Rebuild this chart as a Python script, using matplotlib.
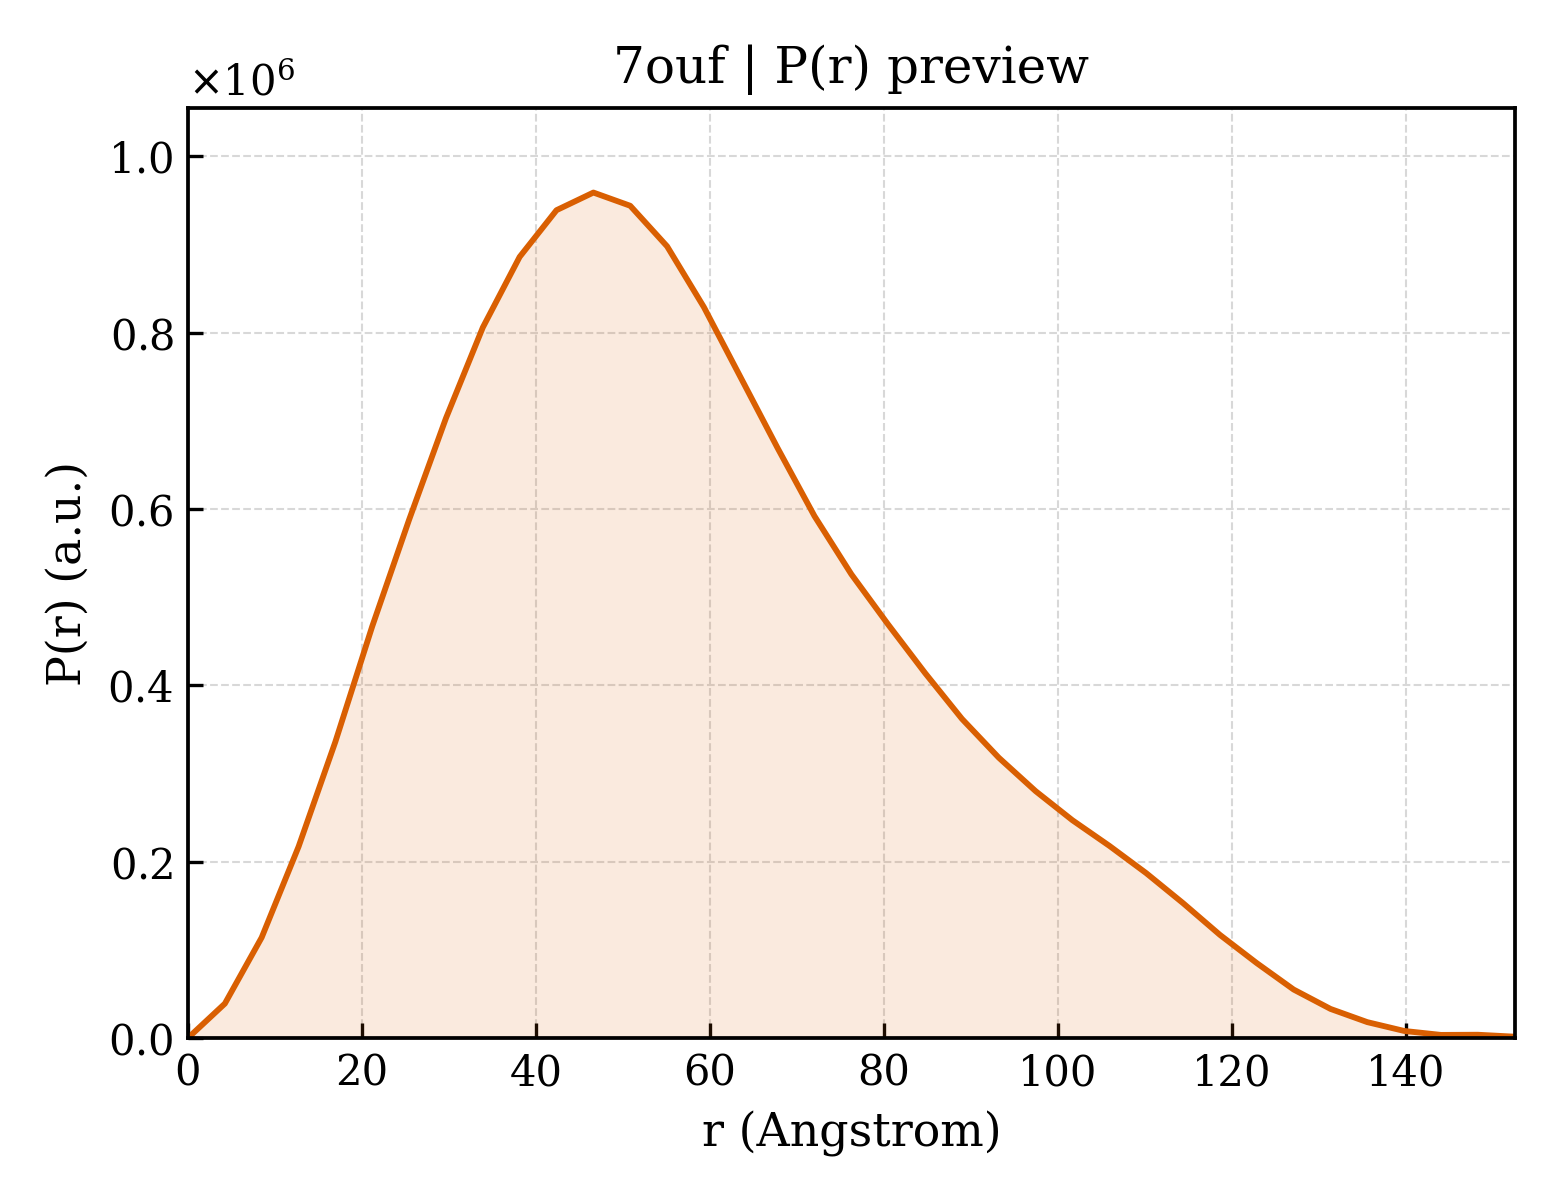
import numpy as np
import matplotlib
matplotlib.use("Agg")
import matplotlib.pyplot as plt
from matplotlib.ticker import ScalarFormatter

# P(r) curve for 7ouf (values in units of 1e6)
r = [0.0, 4.24, 8.47, 12.71, 16.94, 21.18, 25.42, 29.65, 33.89, 38.12,
     42.36, 46.6, 50.83, 55.07, 59.3, 63.54, 67.78, 72.01, 76.25, 80.48,
     84.72, 88.96, 93.19, 97.43, 101.66, 105.9, 110.14, 114.37, 118.61, 122.84,
     127.08, 131.32, 135.55, 139.79, 144.02, 148.26, 152.5]
pr_e6 = [0.0, 0.039, 0.114, 0.217, 0.336, 0.467, 0.588, 0.703, 0.806, 0.886,
         0.939, 0.959, 0.944, 0.898, 0.829, 0.749, 0.669, 0.592, 0.526, 0.469,
         0.414, 0.362, 0.318, 0.280, 0.247, 0.218, 0.187, 0.153, 0.117, 0.085,
         0.055, 0.033, 0.018, 0.008, 0.0035, 0.0037, 0.0015]

title = "7ouf | P(r) preview"
xlabel = "r (Angstrom)"
ylabel = "P(r) (a.u.)"

pr = np.array(pr_e6) * 1e6
color = "#d95f02"

plt.rcParams["font.family"] = "DejaVu Serif"

fig, ax = plt.subplots(figsize=(5.2, 4), dpi=300)
fig.subplots_adjust(left=0.1205, right=0.971, bottom=0.135, top=0.91)

ax.fill_between(r, pr, 0, color=color, alpha=0.13, linewidth=0)
ax.plot(r, pr, color=color, linewidth=1.4)

ax.set_xlim(0, r[-1])
ax.set_ylim(0, pr.max() * 1.1)

fmt = ScalarFormatter(useMathText=True)
fmt.set_powerlimits((0, 0))
ax.yaxis.set_major_formatter(fmt)

ax.tick_params(direction="in", labelsize=10, length=3.5, width=0.8)
ax.grid(True, linestyle="--", linewidth=0.5, color="#d8d8d8")
ax.set_axisbelow(True)
for s in ax.spines.values():
    s.set_linewidth(0.9)

ax.set_xlabel(xlabel, fontsize=11)
ax.set_ylabel(ylabel, fontsize=11)
ax.set_title(title, fontsize=12)

fig.savefig("out.png", dpi=300)
